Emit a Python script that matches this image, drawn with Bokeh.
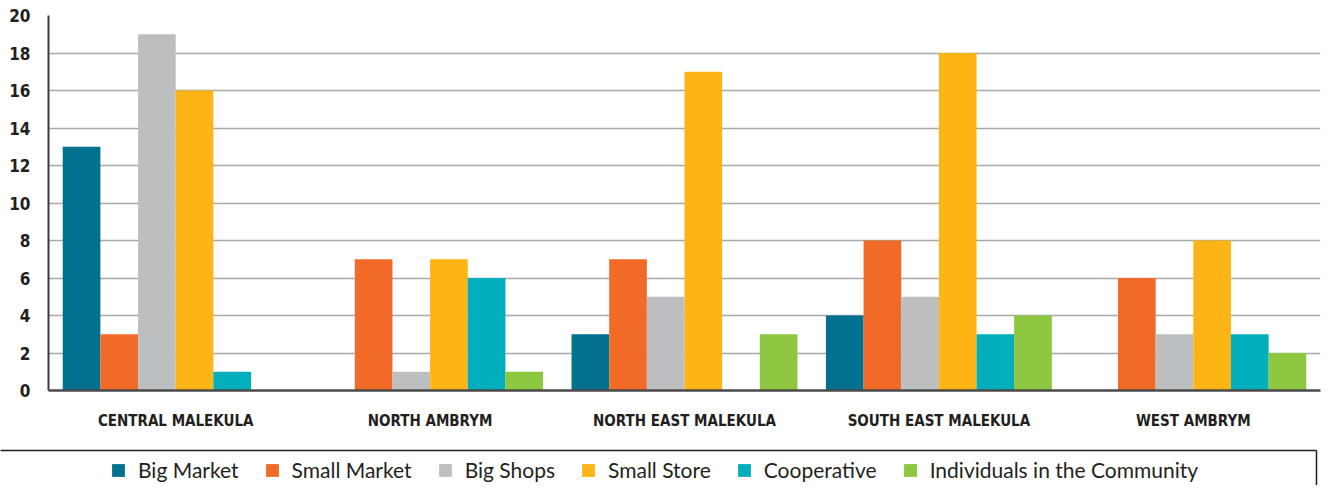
from bokeh.plotting import figure
from bokeh.models import (FactorRange, Range1d, Legend, LegendItem, LinearAxis,
                          ColumnDataSource, FixedTicker)
from bokeh.layouts import column
from bokeh.transform import dodge
from bokeh.embed import file_html
from bokeh.resources import INLINE

categories = ["CENTRAL MALEKULA", "NORTH AMBRYM", "NORTH EAST MALEKULA",
              "SOUTH EAST MALEKULA", "WEST AMBRYM"]
series_names = ["Big Market", "Small Market", "Big Shops", "Small Store",
                "Cooperative", "Individuals in the Community"]
big_market = [13, 0, 3, 4, 0]
small_market = [3, 7, 7, 8, 6]
big_shops = [19, 1, 5, 5, 3]
small_store = [16, 7, 17, 18, 8]
cooperative = [1, 6, 0, 3, 3]
individuals = [0, 1, 3, 4, 2]
y_ticks = [0, 2, 4, 6, 8, 10, 12, 14, 16, 18, 20]

colors = ["#00728F", "#F26A27", "#BCBEC0", "#FDB515", "#00AEBC", "#8DC63F"]

src = ColumnDataSource(dict(cat=categories,
                            s0=big_market, s1=small_market, s2=big_shops,
                            s3=small_store, s4=cooperative, s5=individuals))

W = 1322
p = figure(width=W, height=449, x_range=FactorRange(*categories, range_padding=0),
           y_range=Range1d(0, 20), output_backend="svg", toolbar_location=None,
           min_border_left=48, min_border_right=2, min_border_top=15,
           min_border_bottom=59)
p.outline_line_color = None
p.frame_align = False

bw = 0.148
for i, name in enumerate(series_names):
    off = (i - 2.5) * bw
    p.vbar(x=dodge("cat", off, range=p.x_range), top="s%d" % i, width=bw,
           source=src, fill_color=colors[i], line_color=None)

font_cond = "Liberation Sans Narrow, DejaVu Sans Condensed, sans-serif"

p.yaxis.ticker = FixedTicker(ticks=y_ticks)
p.yaxis.major_label_text_font = font_cond
p.yaxis.major_label_text_font_style = "bold"
p.yaxis.major_label_text_font_size = "17px"
p.yaxis.major_label_text_color = "#231f20"
p.yaxis.major_tick_line_color = None
p.yaxis.minor_tick_line_color = None
p.yaxis.major_label_standoff = 12
p.yaxis.axis_line_color = "#3a3a3a"
p.yaxis.axis_line_width = 2

p.xaxis.major_label_text_font = font_cond
p.xaxis.major_label_text_font_style = "bold"
p.xaxis.major_label_text_font_size = "15px"
p.xaxis.major_label_text_color = "#231f20"
p.xaxis.major_tick_line_color = None
p.xaxis.minor_tick_line_color = None
p.xaxis.major_label_standoff = 15
p.xaxis.axis_line_color = "#4a4a4a"
p.xaxis.axis_line_width = 2.5

p.xgrid.grid_line_color = None
p.ygrid.grid_line_color = "#a7a9ac"
p.ygrid.grid_line_width = 1.5

# legend panel (box open at the bottom, like the reference)
q = figure(width=W, height=36, x_range=p.x_range, y_range=Range1d(0, 1),
           output_backend="svg", toolbar_location=None,
           x_axis_location=None, y_axis_location=None,
           min_border_left=0, min_border_right=6, min_border_top=1,
           min_border_bottom=0)
q.outline_line_color = None
q.frame_align = False
q.xgrid.visible = False
q.ygrid.visible = False
for side in ["above", "right"]:
    ax = LinearAxis(ticker=FixedTicker(ticks=[]), major_tick_out=0, major_tick_in=0,
                    minor_tick_out=0, minor_tick_in=0, major_label_standoff=0,
                    axis_line_color="#231f20", axis_line_width=1.5)
    q.add_layout(ax, side)

# legend proxies: same data, hidden in this panel
renderers = []
for i, name in enumerate(series_names):
    off = (i - 2.5) * bw
    r = q.vbar(x=dodge("cat", off, range=q.x_range), top="s%d" % i, width=bw,
               source=src, fill_color=colors[i], line_color=None, visible=False)
    renderers.append(r)

items = [LegendItem(label=n, renderers=[r]) for n, r in zip(series_names, renderers)]
legend = Legend(items=items, orientation="horizontal", location=(110, 3),
                padding=0, margin=0, spacing=25, label_standoff=12,
                glyph_width=16, glyph_height=16, label_height=21,
                label_text_font="Lato", label_text_font_size="21px",
                label_text_color="#231f20", inactive_fill_alpha=0,
                background_fill_alpha=0, border_line_alpha=0)
q.add_layout(legend)

layout = column(p, q, spacing=0)
open("out.html", "w").write(file_html(layout, INLINE))
